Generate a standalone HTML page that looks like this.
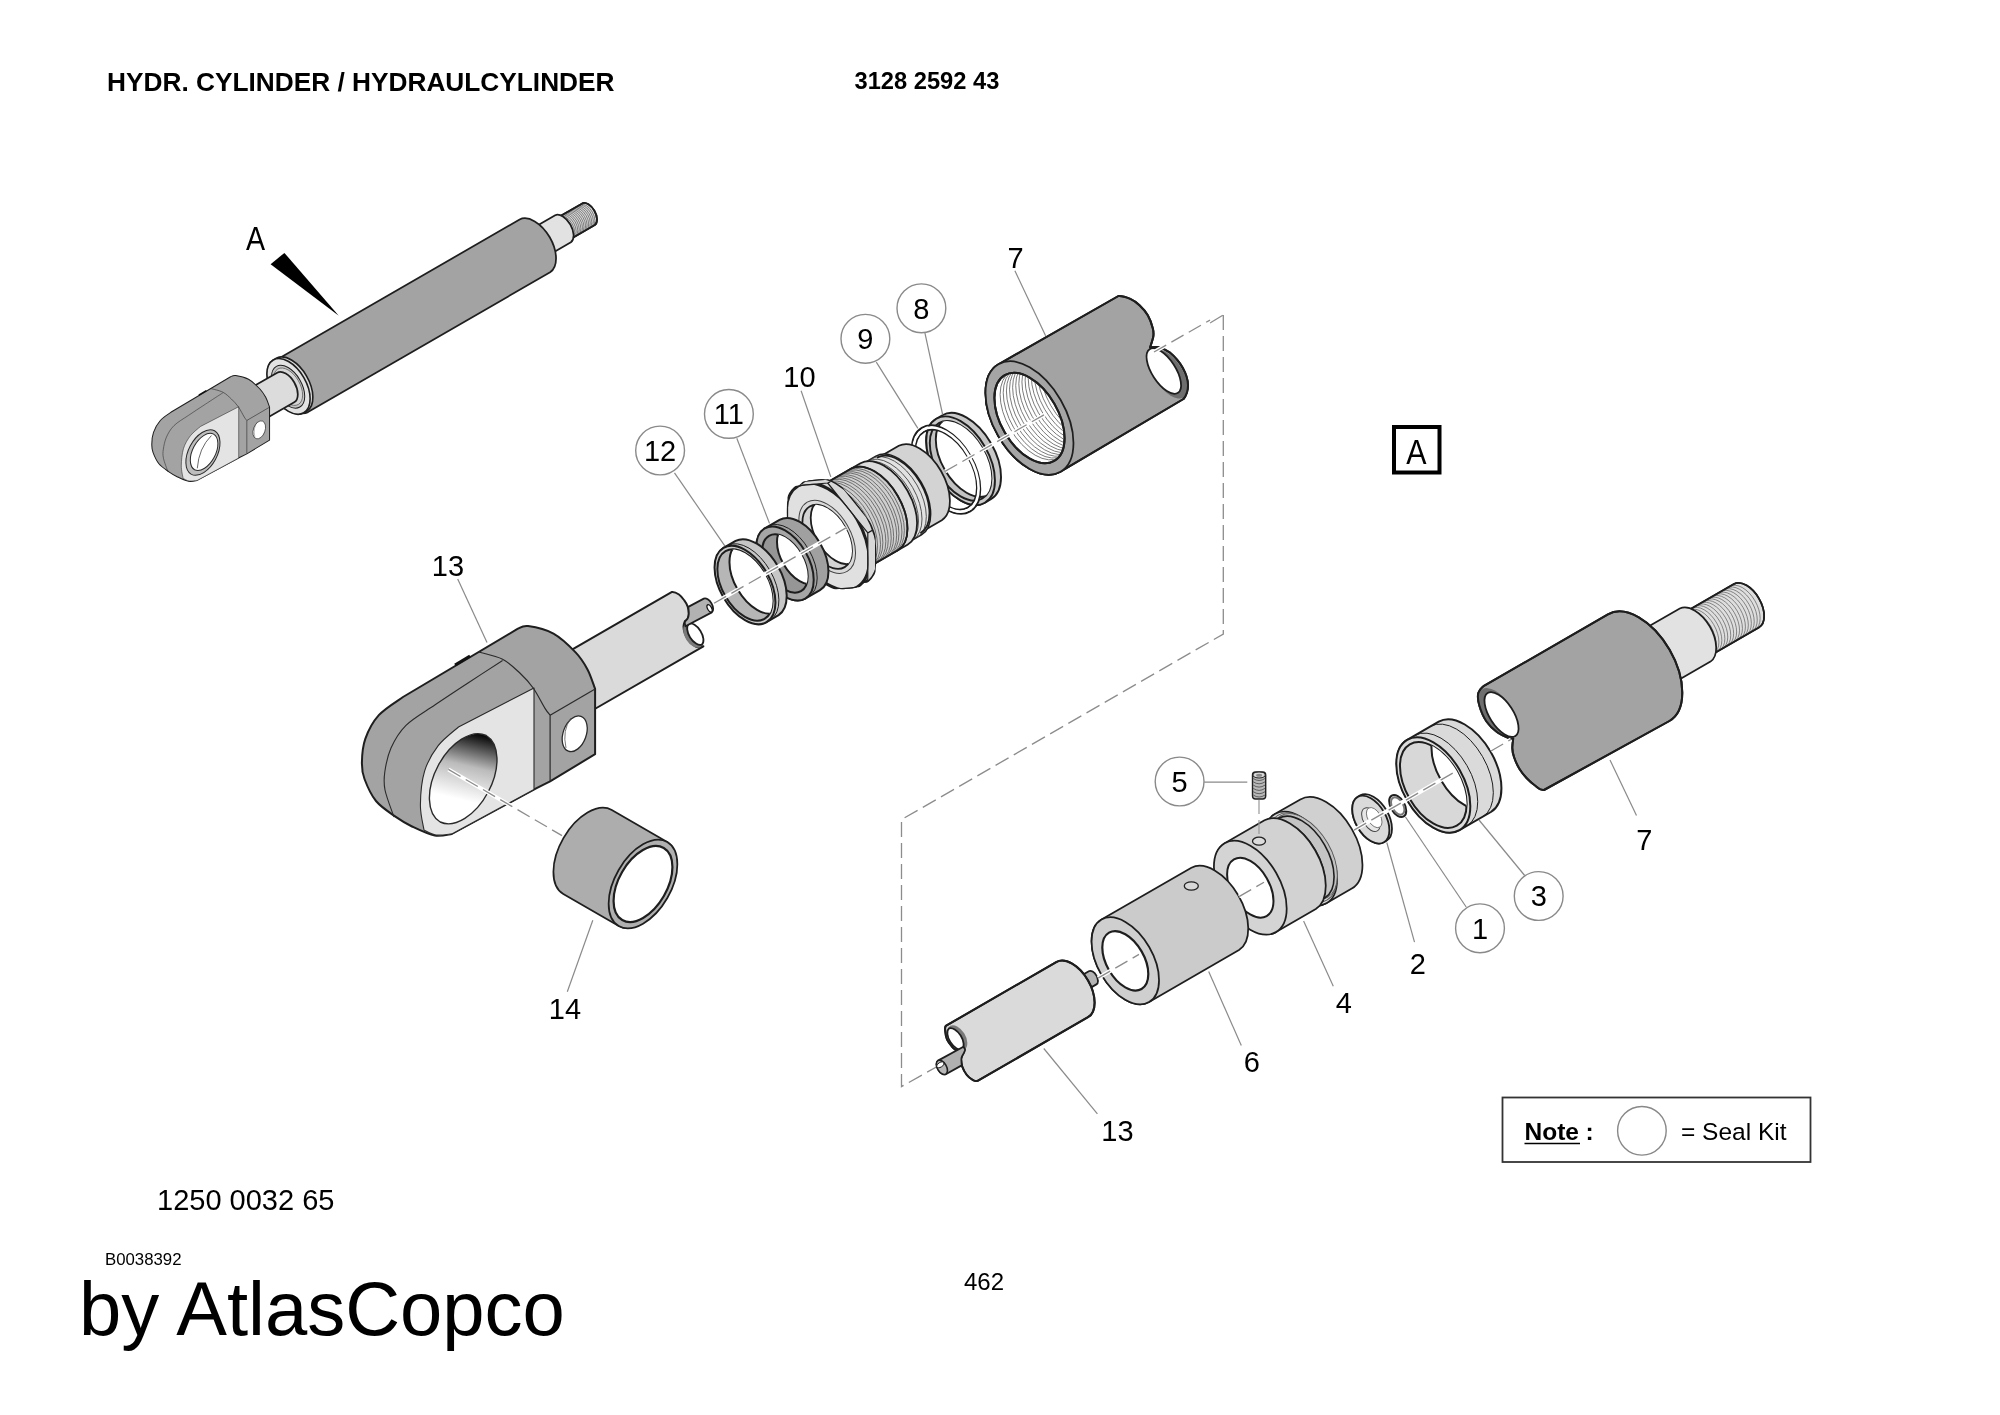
<!DOCTYPE html>
<html><head><meta charset="utf-8"><style>
html,body{margin:0;padding:0;background:#fff;}
svg{display:block;will-change:transform;}
text{font-family:"Liberation Sans",sans-serif;fill:#000;}
</style></head><body>
<svg width="2000" height="1415" viewBox="0 0 2000 1415">
<defs><clipPath id="c1"><ellipse cx="1029.5" cy="418.0" rx="49.5" ry="28.7" transform="rotate(60 1029.5 418.0)"/></clipPath><clipPath id="c2"><ellipse cx="960.6" cy="460.8" rx="43.5" ry="25.2" transform="rotate(60 960.6 460.8)"/></clipPath><clipPath id="c3"><path d="M806.2,481.3 A58.5,34.0 60 0 1 864.7,582.7 A58.5,34.0 60 0 1 806.2,481.3 Z"/></clipPath><clipPath id="c4"><path d="M875.6,528.4 L835.5,478.5 L795.3,482.1 L795.3,535.6 L835.5,585.5 L875.6,581.9 Z"/></clipPath><clipPath id="c5"><path d="M798.4,485.8 A58.5,34.0 60 0 1 856.9,587.2 A58.5,34.0 60 0 1 798.4,485.8 Z M806.2,481.3 A58.5,34.0 60 0 1 864.7,582.7 A58.5,34.0 60 0 1 806.2,481.3 Z"/></clipPath><clipPath id="c6"><path d="M798.4,485.8 A58.5,34.0 60 0 1 856.9,587.2 A58.5,34.0 60 0 1 798.4,485.8 Z"/></clipPath><clipPath id="c7"><path d="M867.8,532.9 L827.7,483.0 L787.5,486.6 L787.5,540.1 L827.7,590.0 L867.8,586.4 Z"/></clipPath><clipPath id="c8"><ellipse cx="827.2" cy="536.8" rx="35.0" ry="20.3" transform="rotate(60 827.2 536.8)"/></clipPath><clipPath id="c9"><ellipse cx="785.0" cy="563.5" rx="32.0" ry="18.6" transform="rotate(60 785.0 563.5)"/></clipPath><clipPath id="c10"><ellipse cx="745.0" cy="585.0" rx="39.0" ry="22.6" transform="rotate(60 745.0 585.0)"/></clipPath><linearGradient id="holegrad" gradientUnits="userSpaceOnUse" x1="478" y1="733" x2="462" y2="800"><stop offset="0" stop-color="#000"/><stop offset="0.5" stop-color="#bbb"/><stop offset="1" stop-color="#fff"/></linearGradient><g id="eye"><path d="M403,697 L517.9,628.7 C519.6,628.3 522.2,625.3 528.1,626.1 C534.0,626.9 545.6,629.3 553.5,633.7 C561.4,638.1 569.9,646.5 575.6,652.4 C581.3,658.3 584.2,663.3 587.5,669.4 C590.8,675.5 593.8,685.6 595.1,688.9 L595.1,754.2 L550.1,781.3 L536.6,788.1 L451.8,833.9 C449.0,834.2 441.4,836.8 434.8,835.6 C428.2,834.4 418.5,829.6 412.0,826.5 C405.5,823.4 401.8,821.1 395.8,816.9 C389.8,812.6 381.2,807.3 376.0,801.0 C370.8,794.7 366.9,785.4 364.5,779.0 C362.1,772.6 361.8,769.3 361.9,762.6 C362.0,755.9 362.5,746.8 365.3,738.9 C368.1,731.0 372.5,722.2 378.8,715.2 C385.1,708.2 399.0,700.0 403.0,697.0 Z" fill="#a3a3a3" stroke="#1e1e1e" stroke-width="2" stroke-linejoin="round"/><path d="M534,688 L534,789.5 L451.8,833.9 C449.2,834.1 440.6,835.6 436.0,835.0 C431.4,834.4 426.0,830.8 424.0,830.0 C423.4,825.8 420.3,814.8 420.4,805.0 C420.5,795.2 421.6,781.0 424.6,771.1 C427.6,761.2 432.6,753.1 438.2,745.7 C443.8,738.4 455.1,730.1 458.5,727.0 Z" fill="#e4e4e4" stroke="#2a2a2a" stroke-width="1.1" stroke-linejoin="round"/><path d="M394.0,817.0 C392.5,812.5 386.5,797.5 385.0,790.0 C383.5,782.5 383.8,779.0 384.8,772.0 C385.8,765.0 387.5,755.8 391.0,748.0 C394.5,740.2 398.7,732.5 406.0,725.3 C413.3,718.1 424.5,712.0 434.8,705.0 C445.1,698.0 456.7,690.4 468.0,683.0 C479.3,675.6 496.8,664.2 502.6,660.5" fill="none" stroke="#2a2a2a" stroke-width="1.1"/><path d="M478.9,652.0 C482.8,653.2 495.8,655.7 502.6,659.2 C509.4,662.7 514.5,668.0 519.6,672.8 C524.7,677.6 529.0,682.1 533.2,688.0 C537.4,693.9 542.2,703.9 545.0,708.4 C547.8,712.9 549.2,714.1 550.1,715.2 L550.1,781.3" fill="none" stroke="#2a2a2a" stroke-width="1.2"/><path d="M550.1,715.2 L595.1,688.9" fill="none" stroke="#2a2a2a" stroke-width="1.2"/><ellipse cx="574.7" cy="733.8" rx="18.5" ry="11.5" transform="rotate(110 574.7 733.8)" fill="#fff" stroke="#2a2a2a" stroke-width="1.3"/><path d="M571,718 Q562,730 566,748" fill="none" stroke="#555" stroke-width="0.8"/><path d="M486.2,735.5 A49.0,29.0 118 0 1 440.2,822.0 A49.0,29.0 118 0 1 486.2,735.5 Z" fill="url(#holegrad)" stroke="#2a2a2a" stroke-width="1.4"/><path d="M455,665 L470,656" stroke="#111" stroke-width="3"/></g><g id="eyes"><path d="M403,697 L517.9,628.7 C519.6,628.3 522.2,625.3 528.1,626.1 C534.0,626.9 545.6,629.3 553.5,633.7 C561.4,638.1 569.9,646.5 575.6,652.4 C581.3,658.3 584.2,663.3 587.5,669.4 C590.8,675.5 593.8,685.6 595.1,688.9 L595.1,754.2 L550.1,781.3 L536.6,788.1 L451.8,833.9 C449.0,834.2 441.4,836.8 434.8,835.6 C428.2,834.4 418.5,829.6 412.0,826.5 C405.5,823.4 401.8,821.1 395.8,816.9 C389.8,812.6 381.2,807.3 376.0,801.0 C370.8,794.7 366.9,785.4 364.5,779.0 C362.1,772.6 361.8,769.3 361.9,762.6 C362.0,755.9 362.5,746.8 365.3,738.9 C368.1,731.0 372.5,722.2 378.8,715.2 C385.1,708.2 399.0,700.0 403.0,697.0 Z" fill="#a3a3a3" stroke="#1e1e1e" stroke-width="2" stroke-linejoin="round"/><path d="M534,688 L534,789.5 L451.8,833.9 C449.2,834.1 440.6,835.6 436.0,835.0 C431.4,834.4 426.0,830.8 424.0,830.0 C423.4,825.8 420.3,814.8 420.4,805.0 C420.5,795.2 421.6,781.0 424.6,771.1 C427.6,761.2 432.6,753.1 438.2,745.7 C443.8,738.4 455.1,730.1 458.5,727.0 Z" fill="#e4e4e4" stroke="#2a2a2a" stroke-width="1.1" stroke-linejoin="round"/><path d="M394.0,817.0 C392.5,812.5 386.5,797.5 385.0,790.0 C383.5,782.5 383.8,779.0 384.8,772.0 C385.8,765.0 387.5,755.8 391.0,748.0 C394.5,740.2 398.7,732.5 406.0,725.3 C413.3,718.1 424.5,712.0 434.8,705.0 C445.1,698.0 456.7,690.4 468.0,683.0 C479.3,675.6 496.8,664.2 502.6,660.5" fill="none" stroke="#2a2a2a" stroke-width="1.1"/><path d="M478.9,652.0 C482.8,653.2 495.8,655.7 502.6,659.2 C509.4,662.7 514.5,668.0 519.6,672.8 C524.7,677.6 529.0,682.1 533.2,688.0 C537.4,693.9 542.2,703.9 545.0,708.4 C547.8,712.9 549.2,714.1 550.1,715.2 L550.1,781.3" fill="none" stroke="#2a2a2a" stroke-width="1.2"/><path d="M550.1,715.2 L595.1,688.9" fill="none" stroke="#2a2a2a" stroke-width="1.2"/><ellipse cx="574.7" cy="733.8" rx="18.5" ry="11.5" transform="rotate(110 574.7 733.8)" fill="#fff" stroke="#2a2a2a" stroke-width="1.3"/><path d="M571,718 Q562,730 566,748" fill="none" stroke="#555" stroke-width="0.8"/><path d="M486.2,735.5 A49.0,29.0 118 0 1 440.2,822.0 A49.0,29.0 118 0 1 486.2,735.5 Z" fill="#bdbdbd" stroke="#2a2a2a" stroke-width="2"/><path d="M484.3,742.2 A40.0,23.0 118 0 1 446.7,812.8 A40.0,23.0 118 0 1 484.3,742.2 Z" fill="#fff" stroke="#2a2a2a" stroke-width="2"/><path d="M480,745 Q455,770 452,810" fill="none" stroke="#444" stroke-width="1.6"/><path d="M455,665 L470,656" stroke="#111" stroke-width="3"/></g><clipPath id="c11"><ellipse cx="1433.3" cy="785.0" rx="47.0" ry="27.3" transform="rotate(60 1433.3 785.0)"/></clipPath></defs>
<rect width="2000" height="1415" fill="#fff"/>
<text x="107.0" y="90.5" font-size="26.25" text-anchor="start" font-weight="bold" >HYDR. CYLINDER / HYDRAULCYLINDER</text>
<text x="854.5" y="89.2" font-size="23.7" text-anchor="start" font-weight="bold" >3128 2592 43</text>
<text x="157.0" y="1210.0" font-size="29" text-anchor="start" font-weight="normal" >1250 0032 65</text>
<text x="105.0" y="1264.5" font-size="16.8" text-anchor="start" font-weight="normal" >B0038392</text>
<text x="79.0" y="1335.0" font-size="76" text-anchor="start" font-weight="normal" >by AtlasCopco</text>
<text x="964.0" y="1289.5" font-size="24" text-anchor="start" font-weight="normal" >462</text>
<rect x="1394" y="427" width="45.5" height="45.5" fill="none" stroke="#000" stroke-width="4"/>
<text x="1416.3" y="463.7" font-size="34.5" text-anchor="middle" font-weight="normal" transform="translate(1416.3 0) scale(0.88 1) translate(-1416.3 0)">A</text>
<rect x="1502.5" y="1097.5" width="308" height="64.5" fill="none" stroke="#333" stroke-width="1.8"/>
<text x="1524.5" y="1139.5" font-size="24.5" text-anchor="start" font-weight="bold" >Note</text>
<line x1="1524.5" y1="1143.5" x2="1580" y2="1143.5" stroke="#000" stroke-width="1.6"/>
<text x="1585.5" y="1139.5" font-size="24.5" text-anchor="start" font-weight="bold" >:</text>
<circle cx="1641.9" cy="1130.8" r="24.3" fill="none" stroke="#888" stroke-width="1.4"/>
<text x="1681.0" y="1140.4" font-size="24.5" text-anchor="start" font-weight="normal" >= Seal Kit</text>
<path d="M1223.3,314.9 L1223.3,634 L901.5,819.6 L901.5,1086.6 L937.7,1066.2" stroke="#8c8c8c" stroke-width="1.3" stroke-dasharray="15 6" fill="none"/>
<path d="M1210,323 L1223.3,314.9" stroke="#8c8c8c" stroke-width="1.3" stroke-dasharray="15 6" fill="none"/>
<path d="M556.9,218.1 L582.3,203.4 A12.5,7.2 60 0 1 594.8,225.0 L569.4,239.7 A12.5,7.2 60 0 1 556.9,218.1 Z" fill="#d6d6d6" stroke="#1e1e1e" stroke-width="1.75" stroke-linejoin="round" />
<path d="M558.4,217.2 A12.5,7.2 60 0 1 570.9,238.8" fill="none" stroke="#5a5a5a" stroke-width="0.7"/>
<path d="M560.0,216.3 A12.5,7.2 60 0 1 572.5,237.9" fill="none" stroke="#5a5a5a" stroke-width="0.7"/>
<path d="M561.5,215.4 A12.5,7.2 60 0 1 574.0,237.0" fill="none" stroke="#5a5a5a" stroke-width="0.7"/>
<path d="M563.1,214.5 A12.5,7.2 60 0 1 575.6,236.1" fill="none" stroke="#5a5a5a" stroke-width="0.7"/>
<path d="M564.6,213.6 A12.5,7.2 60 0 1 577.1,235.2" fill="none" stroke="#5a5a5a" stroke-width="0.7"/>
<path d="M566.2,212.7 A12.5,7.2 60 0 1 578.7,234.3" fill="none" stroke="#5a5a5a" stroke-width="0.7"/>
<path d="M567.8,211.8 A12.5,7.2 60 0 1 580.3,233.4" fill="none" stroke="#5a5a5a" stroke-width="0.7"/>
<path d="M569.3,210.9 A12.5,7.2 60 0 1 581.8,232.5" fill="none" stroke="#5a5a5a" stroke-width="0.7"/>
<path d="M570.9,210.0 A12.5,7.2 60 0 1 583.4,231.6" fill="none" stroke="#5a5a5a" stroke-width="0.7"/>
<path d="M572.4,209.1 A12.5,7.2 60 0 1 584.9,230.7" fill="none" stroke="#5a5a5a" stroke-width="0.7"/>
<path d="M574.0,208.2 A12.5,7.2 60 0 1 586.5,229.8" fill="none" stroke="#5a5a5a" stroke-width="0.7"/>
<path d="M575.6,207.3 A12.5,7.2 60 0 1 588.1,228.9" fill="none" stroke="#5a5a5a" stroke-width="0.7"/>
<path d="M577.1,206.4 A12.5,7.2 60 0 1 589.6,228.0" fill="none" stroke="#5a5a5a" stroke-width="0.7"/>
<path d="M578.7,205.5 A12.5,7.2 60 0 1 591.2,227.1" fill="none" stroke="#5a5a5a" stroke-width="0.7"/>
<path d="M580.2,204.6 A12.5,7.2 60 0 1 592.7,226.2" fill="none" stroke="#5a5a5a" stroke-width="0.7"/>
<path d="M556.9,218.1 L582.3,203.4 A12.5,7.2 60 0 1 594.8,225.0 L569.4,239.7 A12.5,7.2 60 0 1 556.9,218.1 Z" fill="none" stroke="#1e1e1e" stroke-width="1.75" stroke-linejoin="round" />
<path d="M527.1,231.4 L555.2,215.2 A15.7,9.1 60 0 1 570.9,242.3 L542.7,258.6 A15.7,9.1 60 0 1 527.1,231.4 Z" fill="#e2e2e2" stroke="#1e1e1e" stroke-width="1.75" stroke-linejoin="round" />
<path d="M277.5,359.3 L519.6,219.5 A30.5,17.7 60 0 1 550.1,272.3 L308.0,412.1 A30.5,17.7 60 0 1 277.5,359.3 Z" fill="#a3a3a3" stroke="#1e1e1e" stroke-width="1.75" stroke-linejoin="round" />
<path d="M273.3,360.0 L276.8,358.0 A30.5,17.7 60 0 1 307.2,410.8 L303.8,412.8 A30.5,17.7 60 0 1 273.3,360.0 Z" fill="#dcdcdc" stroke="#1e1e1e" stroke-width="1.6" stroke-linejoin="round" />
<ellipse cx="288.5" cy="386.4" rx="30.5" ry="17.7" transform="rotate(60 288.5 386.4)" fill="#e2e2e2" stroke="#1e1e1e" stroke-width="1.6" />
<ellipse cx="288.1" cy="386.7" rx="23.5" ry="13.6" transform="rotate(60 288.1 386.7)" fill="#c4c4c4" stroke="#1e1e1e" stroke-width="1.0" />
<ellipse cx="288.1" cy="386.7" rx="20.5" ry="11.9" transform="rotate(60 288.1 386.7)" fill="#d6d6d6" stroke="#666" stroke-width="0.8" />
<path d="M239.9,394.2 L277.2,372.7 A17.0,9.9 60 0 1 294.2,402.2 L256.9,423.7 A17.0,9.9 60 0 1 239.9,394.2 Z" fill="#dcdcdc" stroke="#1e1e1e" stroke-width="1.75" stroke-linejoin="round" />
<use href="#eyes" transform="translate(269.5 398.4) scale(0.505) translate(-595 -671.5)"/>
<path d="M998.5,364.3 L1118.4,296 C1121.5,295.8 1126.8,297.3 1130.3,298.8 C1133.8,300.3 1136.6,302.4 1139.5,305.2 C1142.4,307.9 1145.6,311.5 1147.8,315.3 C1150.0,319.1 1151.9,324.7 1152.8,328.2 C1153.7,331.7 1153.8,333.3 1153.3,336.5 C1152.8,339.7 1150.6,345.7 1150.1,347.5 C1151.5,347.4 1155.5,346.4 1158.8,347.2 C1162.1,348.0 1165.9,349.1 1169.9,352.5 C1173.9,355.9 1179.7,362.3 1182.7,367.7 C1185.7,373.1 1187.9,379.8 1188.0,385.0 C1188.1,390.2 1186.4,395.4 1183.5,399.0 L1060.5,471.7 A62.0,36.0 60 0 1 998.5,364.3 Z" fill="#a3a3a3" stroke="#1e1e1e" stroke-width="2" stroke-linejoin="round"/>
<path d="M1153.3,350.5 A28.0,14.5 57 0 1 1183.7,397.5 A28.0,14.5 57 0 1 1153.3,350.5 Z" fill="#6e6e6e"/>
<path d="M1149.6,349.2 A26.0,11.8 57 0 1 1178.0,392.8 A26.0,11.8 57 0 1 1149.6,349.2 Z" fill="#fff" stroke="#1e1e1e" stroke-width="1.8"/>
<path d="M998.5,364.3 L1118.4,296 C1121.5,295.8 1126.8,297.3 1130.3,298.8 C1133.8,300.3 1136.6,302.4 1139.5,305.2 C1142.4,307.9 1145.6,311.5 1147.8,315.3 C1150.0,319.1 1151.9,324.7 1152.8,328.2 C1153.7,331.7 1153.8,333.3 1153.3,336.5 C1152.8,339.7 1150.6,345.7 1150.1,347.5 C1151.5,347.4 1155.5,346.4 1158.8,347.2 C1162.1,348.0 1165.9,349.1 1169.9,352.5 C1173.9,355.9 1179.7,362.3 1182.7,367.7 C1185.7,373.1 1187.9,379.8 1188.0,385.0 C1188.1,390.2 1186.4,395.4 1183.5,399.0 L1060.5,471.7 A62.0,36.0 60 0 1 998.5,364.3 Z" fill="none" stroke="#1e1e1e" stroke-width="2" stroke-linejoin="round"/>
<ellipse cx="1029.5" cy="418.0" rx="62.0" ry="36.0" transform="rotate(60 1029.5 418.0)" fill="#a5a5a5" stroke="#1e1e1e" stroke-width="1.75" />
<ellipse cx="1029.5" cy="418.0" rx="49.5" ry="28.7" transform="rotate(60 1029.5 418.0)" fill="#fff" stroke="#1e1e1e" stroke-width="2.0" />
<g clip-path="url(#c1)">
<ellipse cx="1035.2" cy="414.7" rx="49.5" ry="28.7" transform="rotate(60 1035.2 414.7)" fill="none" stroke="#6a6a6a" stroke-width="0.8" />
<ellipse cx="1038.3" cy="412.9" rx="49.5" ry="28.7" transform="rotate(60 1038.3 412.9)" fill="none" stroke="#6a6a6a" stroke-width="0.8" />
<ellipse cx="1041.5" cy="411.1" rx="49.5" ry="28.7" transform="rotate(60 1041.5 411.1)" fill="none" stroke="#6a6a6a" stroke-width="0.8" />
<ellipse cx="1044.6" cy="409.3" rx="49.5" ry="28.7" transform="rotate(60 1044.6 409.3)" fill="none" stroke="#6a6a6a" stroke-width="0.8" />
<ellipse cx="1047.7" cy="407.5" rx="49.5" ry="28.7" transform="rotate(60 1047.7 407.5)" fill="none" stroke="#6a6a6a" stroke-width="0.8" />
<ellipse cx="1050.8" cy="405.7" rx="49.5" ry="28.7" transform="rotate(60 1050.8 405.7)" fill="none" stroke="#6a6a6a" stroke-width="0.8" />
<ellipse cx="1053.9" cy="403.9" rx="49.5" ry="28.7" transform="rotate(60 1053.9 403.9)" fill="none" stroke="#6a6a6a" stroke-width="0.8" />
<ellipse cx="1057.0" cy="402.1" rx="49.5" ry="28.7" transform="rotate(60 1057.0 402.1)" fill="none" stroke="#6a6a6a" stroke-width="0.8" />
<ellipse cx="1060.2" cy="400.3" rx="49.5" ry="28.7" transform="rotate(60 1060.2 400.3)" fill="none" stroke="#6a6a6a" stroke-width="0.8" />
<ellipse cx="1063.3" cy="398.5" rx="49.5" ry="28.7" transform="rotate(60 1063.3 398.5)" fill="none" stroke="#6a6a6a" stroke-width="0.8" />
<ellipse cx="1066.4" cy="396.7" rx="49.5" ry="28.7" transform="rotate(60 1066.4 396.7)" fill="none" stroke="#6a6a6a" stroke-width="0.8" />
<ellipse cx="1069.5" cy="394.9" rx="49.5" ry="28.7" transform="rotate(60 1069.5 394.9)" fill="none" stroke="#6a6a6a" stroke-width="0.8" />
<ellipse cx="1072.6" cy="393.1" rx="49.5" ry="28.7" transform="rotate(60 1072.6 393.1)" fill="none" stroke="#6a6a6a" stroke-width="0.8" />
<ellipse cx="1075.7" cy="391.3" rx="49.5" ry="28.7" transform="rotate(60 1075.7 391.3)" fill="none" stroke="#6a6a6a" stroke-width="0.8" />
<ellipse cx="1078.9" cy="389.5" rx="49.5" ry="28.7" transform="rotate(60 1078.9 389.5)" fill="none" stroke="#6a6a6a" stroke-width="0.8" />
</g>
<ellipse cx="1029.5" cy="418.0" rx="49.5" ry="28.7" transform="rotate(60 1029.5 418.0)" fill="none" stroke="#1e1e1e" stroke-width="2.0" />
<path d="M936.3,418.7 L942.4,415.2 A48.5,28.1 60 0 1 990.9,499.3 L984.8,502.8 A48.5,28.1 60 0 1 936.3,418.7 Z" fill="#c8c8c8" stroke="#1e1e1e" stroke-width="1.9" stroke-linejoin="round" />
<ellipse cx="960.6" cy="460.8" rx="48.5" ry="28.1" transform="rotate(60 960.6 460.8)" fill="#cacaca" stroke="#1e1e1e" stroke-width="1.9" />
<ellipse cx="960.6" cy="460.8" rx="43.5" ry="25.2" transform="rotate(60 960.6 460.8)" fill="#c2c2c2" stroke="#1e1e1e" stroke-width="1.9" />
<g clip-path="url(#c2)">
<ellipse cx="966.6" cy="457.2" rx="43.5" ry="25.2" transform="rotate(60 966.6 457.2)" fill="#fff" stroke="#1e1e1e" stroke-width="1.9" />
</g>
<path d="M0,0" />
<ellipse cx="946.0" cy="469.6" rx="48.3" ry="28.0" transform="rotate(60 946.0 469.6)" fill="none" stroke="#1e1e1e" stroke-width="2" />
<ellipse cx="946.0" cy="469.6" rx="43.8" ry="25.4" transform="rotate(60 946.0 469.6)" fill="none" stroke="#1e1e1e" stroke-width="2" />
<ellipse cx="946.0" cy="469.6" rx="46.0" ry="26.7" transform="rotate(60 946.0 469.6)" fill="none" stroke="#fff" stroke-width="2.6" />
<path d="M877.2,458.3 L898.8,445.8 A43.0,24.9 60 0 1 941.8,520.2 L920.2,532.7 A43.0,24.9 60 0 1 877.2,458.3 Z" fill="#d3d3d3" stroke="#1e1e1e" stroke-width="1.75" stroke-linejoin="round" />
<path d="M861.2,464.6 L875.9,456.1 A45.5,26.4 60 0 1 921.4,534.9 L906.7,543.4 A45.5,26.4 60 0 1 861.2,464.6 Z" fill="#e2e2e2" stroke="#1e1e1e" stroke-width="1.6" stroke-linejoin="round" />
<path d="M863.8,463.1 A45.5,26.4 60 0 1 909.3,541.9" fill="none" stroke="#444" stroke-width="0.9"/>
<path d="M867.3,461.1 A45.5,26.4 60 0 1 912.8,539.9" fill="none" stroke="#444" stroke-width="0.9"/>
<path d="M871.6,458.6 A45.5,26.4 60 0 1 917.1,537.4" fill="none" stroke="#444" stroke-width="0.9"/>
<path d="M876.9,457.8 A43.5,25.2 60 0 1 920.4,533.2" fill="none" stroke="#1e1e1e" stroke-width="1.8"/>
<path d="M850.9,468.8 L860.5,463.3 A47.0,27.3 60 0 1 907.5,544.7 L897.9,550.2 A47.0,27.3 60 0 1 850.9,468.8 Z" fill="#dcdcdc" stroke="#1e1e1e" stroke-width="1.8" stroke-linejoin="round" />
<path d="M810.2,492.3 L850.9,468.8 A47.0,27.3 60 0 1 897.9,550.2 L857.2,573.7 A47.0,27.3 60 0 1 810.2,492.3 Z" fill="#cfcfcf" stroke="#1e1e1e" stroke-width="1.75" stroke-linejoin="round" />
<path d="M812.9,490.7 A47.0,27.3 60 0 1 859.9,572.2" fill="none" stroke="#555" stroke-width="0.8"/>
<path d="M815.6,489.2 A47.0,27.3 60 0 1 862.6,570.6" fill="none" stroke="#555" stroke-width="0.8"/>
<path d="M818.3,487.6 A47.0,27.3 60 0 1 865.3,569.1" fill="none" stroke="#555" stroke-width="0.8"/>
<path d="M821.0,486.1 A47.0,27.3 60 0 1 868.0,567.5" fill="none" stroke="#555" stroke-width="0.8"/>
<path d="M823.7,484.5 A47.0,27.3 60 0 1 870.7,566.0" fill="none" stroke="#555" stroke-width="0.8"/>
<path d="M826.3,483.0 A47.0,27.3 60 0 1 873.3,564.4" fill="none" stroke="#555" stroke-width="0.8"/>
<path d="M829.0,481.4 A47.0,27.3 60 0 1 876.0,562.9" fill="none" stroke="#555" stroke-width="0.8"/>
<path d="M831.7,479.9 A47.0,27.3 60 0 1 878.7,561.3" fill="none" stroke="#555" stroke-width="0.8"/>
<path d="M834.4,478.3 A47.0,27.3 60 0 1 881.4,559.8" fill="none" stroke="#555" stroke-width="0.8"/>
<path d="M837.1,476.8 A47.0,27.3 60 0 1 884.1,558.2" fill="none" stroke="#555" stroke-width="0.8"/>
<path d="M839.8,475.2 A47.0,27.3 60 0 1 886.8,556.7" fill="none" stroke="#555" stroke-width="0.8"/>
<path d="M842.4,473.7 A47.0,27.3 60 0 1 889.4,555.1" fill="none" stroke="#555" stroke-width="0.8"/>
<path d="M845.1,472.1 A47.0,27.3 60 0 1 892.1,553.6" fill="none" stroke="#555" stroke-width="0.8"/>
<path d="M847.8,470.6 A47.0,27.3 60 0 1 894.8,552.0" fill="none" stroke="#555" stroke-width="0.8"/>
<path d="M810.2,492.3 L850.9,468.8 A47.0,27.3 60 0 1 897.9,550.2 L857.2,573.7 A47.0,27.3 60 0 1 810.2,492.3 Z" fill="none" stroke="#1e1e1e" stroke-width="1.75" stroke-linejoin="round" />
<g clip-path="url(#c3)"><path d="M875.6,528.4 L835.5,478.5 L795.3,482.1 L795.3,535.6 L835.5,585.5 L875.6,581.9 Z" fill="#d8d8d8" stroke="#1e1e1e" stroke-width="1.3" stroke-linejoin="round"/></g>
<g clip-path="url(#c4)"><path d="M806.2,481.3 A58.5,34.0 60 0 1 864.7,582.7 A58.5,34.0 60 0 1 806.2,481.3 Z" fill="none" stroke="#1e1e1e" stroke-width="3"/></g>
<g clip-path="url(#c5)">
<path d="M867.8,532.9 L827.7,483.0 L835.5,478.5 L875.6,528.4 Z" fill="#d8d8d8" stroke="#1e1e1e" stroke-width="1.2" stroke-linejoin="round" />
<path d="M827.7,483.0 L787.5,486.6 L795.3,482.1 L835.5,478.5 Z" fill="#d8d8d8" stroke="#1e1e1e" stroke-width="1.2" stroke-linejoin="round" />
<path d="M787.5,486.6 L787.5,540.1 L795.3,535.6 L795.3,482.1 Z" fill="#d8d8d8" stroke="#1e1e1e" stroke-width="1.2" stroke-linejoin="round" />
<path d="M787.5,540.1 L827.7,590.0 L835.5,585.5 L795.3,535.6 Z" fill="#d8d8d8" stroke="#1e1e1e" stroke-width="1.2" stroke-linejoin="round" />
<path d="M827.7,590.0 L867.8,586.4 L875.6,581.9 L835.5,585.5 Z" fill="#d8d8d8" stroke="#1e1e1e" stroke-width="1.2" stroke-linejoin="round" />
<path d="M867.8,586.4 L867.8,532.9 L875.6,528.4 L875.6,581.9 Z" fill="#d8d8d8" stroke="#1e1e1e" stroke-width="1.2" stroke-linejoin="round" />
</g>
<g clip-path="url(#c6)"><path d="M867.8,532.9 L827.7,483.0 L787.5,486.6 L787.5,540.1 L827.7,590.0 L867.8,586.4 Z" fill="#e0e0e0" stroke="#1e1e1e" stroke-width="1.3" stroke-linejoin="round"/></g>
<g clip-path="url(#c7)"><path d="M798.4,485.8 A58.5,34.0 60 0 1 856.9,587.2 A58.5,34.0 60 0 1 798.4,485.8 Z" fill="none" stroke="#1e1e1e" stroke-width="3"/></g>
<ellipse cx="827.2" cy="536.8" rx="40.0" ry="23.2" transform="rotate(60 827.2 536.8)" fill="#dadada" stroke="#444" stroke-width="1.0" />
<ellipse cx="827.2" cy="536.8" rx="35.0" ry="20.3" transform="rotate(60 827.2 536.8)" fill="#d4d4d4" stroke="#1e1e1e" stroke-width="1.8" />
<g clip-path="url(#c8)">
<ellipse cx="835.5" cy="532.0" rx="35.0" ry="20.3" transform="rotate(60 835.5 532.0)" fill="#fff" stroke="#1e1e1e" stroke-width="1.8" />
</g>
<path d="M764.8,528.4 L779.5,519.9 A40.5,23.5 60 0 1 820.0,590.1 L805.2,598.6 A40.5,23.5 60 0 1 764.8,528.4 Z" fill="#a0a0a0" stroke="#1e1e1e" stroke-width="2.0" stroke-linejoin="round" />
<path d="M768.2,526.4 A40.5,23.5 60 0 1 808.7,596.6" fill="none" stroke="#1e1e1e" stroke-width="1.0"/>
<ellipse cx="785.0" cy="563.5" rx="40.5" ry="23.5" transform="rotate(60 785.0 563.5)" fill="#a6a6a6" stroke="#1e1e1e" stroke-width="2.0" />
<ellipse cx="785.0" cy="563.5" rx="32.0" ry="18.6" transform="rotate(60 785.0 563.5)" fill="#969696" stroke="#1e1e1e" stroke-width="2.0" />
<g clip-path="url(#c9)">
<ellipse cx="799.7" cy="555.0" rx="32.0" ry="18.6" transform="rotate(60 799.7 555.0)" fill="#fff" stroke="#1e1e1e" stroke-width="2.0" />
</g>
<path d="M723.5,547.8 L735.6,540.8 A43.0,24.9 60 0 1 778.6,615.2 L766.5,622.2 A43.0,24.9 60 0 1 723.5,547.8 Z" fill="#c6c6c6" stroke="#1e1e1e" stroke-width="2.0" stroke-linejoin="round" />
<path d="M727.8,545.3 A43.0,24.9 60 0 1 770.8,619.7" fill="none" stroke="#1e1e1e" stroke-width="1.0"/>
<ellipse cx="745.0" cy="585.0" rx="43.0" ry="24.9" transform="rotate(60 745.0 585.0)" fill="#cbcbcb" stroke="#1e1e1e" stroke-width="2.0" />
<ellipse cx="745.0" cy="585.0" rx="39.0" ry="22.6" transform="rotate(60 745.0 585.0)" fill="#b6b6b6" stroke="#1e1e1e" stroke-width="2.0" />
<g clip-path="url(#c10)">
<ellipse cx="757.1" cy="578.0" rx="39.0" ry="22.6" transform="rotate(60 757.1 578.0)" fill="#fff" stroke="#1e1e1e" stroke-width="2.0" />
</g>
<path d="M561.6,655.7 L672.0,591.9 C674.3,591.7 677.0,593.1 679.0,594.5 C681.0,595.9 682.8,598.4 684.3,600.4 C685.8,602.4 687.0,604.4 687.7,606.6 C688.5,608.9 688.8,611.9 688.8,613.9 C688.8,615.9 688.4,617.2 687.7,618.4 C687.1,619.6 685.4,620.8 684.9,621.3 C684.7,622.1 683.5,624.3 683.5,626.4 C683.5,628.5 683.9,631.2 684.9,633.7 C685.9,636.2 687.5,638.9 689.4,641.1 C691.3,643.3 693.9,645.8 696.2,646.7 C698.5,647.6 703.4,645.7 703.4,646.3 L593.0,710.0 A31.4,18.2 60 0 1 561.6,655.7 Z" fill="#dadada" stroke="#1e1e1e" stroke-width="2" stroke-linejoin="round"/>
<path d="M685.7,623.8 A13.8,8.2 58 0 1 700.3,647.2 A13.8,8.2 58 0 1 685.7,623.8 Z" fill="#7a7a7a"/>
<path d="M688.8,623.8 A12.3,6.6 58 0 1 701.8,644.6 A12.3,6.6 58 0 1 688.8,623.8 Z" fill="#fff" stroke="#1e1e1e" stroke-width="1.8"/>
<path d="M688.3,606.9 L703.8,598.6 A8,4.64 60 0 1 711.8,612.4 L685.5,626.3 C685.4,625.6 684.5,623.5 684.8,622.3 C685.1,621.0 686.8,620.2 687.5,618.8 C688.2,617.4 688.7,615.9 688.8,613.9 C688.9,611.9 688.4,608.1 688.3,606.9 Z" fill="#b2b2b2" stroke="#1e1e1e" stroke-width="1.8" stroke-linejoin="round"/>
<path d="M707.5,604.8 A4.2,2.3 60 0 1 711.7,612.0 A4.2,2.3 60 0 1 707.5,604.8 Z" fill="#fff" stroke="#111" stroke-width="1.2"/>
<use href="#eye"/>
<path d="M611.8,810.0 L667.2,842.0 A48.5,28.1 120 0 1 618.8,926.0 L563.3,894.0 A48.5,28.1 120 0 1 611.8,810.0 Z" fill="#adadad" stroke="#1e1e1e" stroke-width="1.75" stroke-linejoin="round" />
<ellipse cx="643.0" cy="884.0" rx="48.5" ry="28.1" transform="rotate(120 643.0 884.0)" fill="#b0b0b0" stroke="#1e1e1e" stroke-width="1.75" />
<ellipse cx="643.0" cy="884.0" rx="41.5" ry="24.1" transform="rotate(120 643.0 884.0)" fill="#fff" stroke="#1e1e1e" stroke-width="2.2" />
<path d="M1682.8,613.6 L1733.9,584.1 A25.0,14.5 60 0 1 1758.9,627.5 L1707.8,657.0 A25.0,14.5 60 0 1 1682.8,613.6 Z" fill="#dedede" stroke="#1e1e1e" stroke-width="1.75" stroke-linejoin="round" />
<path d="M1685.7,611.9 A25.0,14.5 60 0 1 1710.7,655.3" fill="none" stroke="#5a5a5a" stroke-width="0.7"/>
<path d="M1688.7,610.2 A25.0,14.5 60 0 1 1713.7,653.6" fill="none" stroke="#5a5a5a" stroke-width="0.7"/>
<path d="M1691.6,608.5 A25.0,14.5 60 0 1 1716.6,651.9" fill="none" stroke="#5a5a5a" stroke-width="0.7"/>
<path d="M1694.6,606.8 A25.0,14.5 60 0 1 1719.6,650.2" fill="none" stroke="#5a5a5a" stroke-width="0.7"/>
<path d="M1697.5,605.1 A25.0,14.5 60 0 1 1722.5,648.5" fill="none" stroke="#5a5a5a" stroke-width="0.7"/>
<path d="M1700.5,603.4 A25.0,14.5 60 0 1 1725.5,646.8" fill="none" stroke="#5a5a5a" stroke-width="0.7"/>
<path d="M1703.4,601.7 A25.0,14.5 60 0 1 1728.4,645.1" fill="none" stroke="#5a5a5a" stroke-width="0.7"/>
<path d="M1706.4,600.0 A25.0,14.5 60 0 1 1731.4,643.4" fill="none" stroke="#5a5a5a" stroke-width="0.7"/>
<path d="M1709.3,598.3 A25.0,14.5 60 0 1 1734.3,641.7" fill="none" stroke="#5a5a5a" stroke-width="0.7"/>
<path d="M1712.2,596.6 A25.0,14.5 60 0 1 1737.2,640.0" fill="none" stroke="#5a5a5a" stroke-width="0.7"/>
<path d="M1715.2,594.9 A25.0,14.5 60 0 1 1740.2,638.3" fill="none" stroke="#5a5a5a" stroke-width="0.7"/>
<path d="M1718.1,593.2 A25.0,14.5 60 0 1 1743.1,636.6" fill="none" stroke="#5a5a5a" stroke-width="0.7"/>
<path d="M1721.1,591.5 A25.0,14.5 60 0 1 1746.1,634.9" fill="none" stroke="#5a5a5a" stroke-width="0.7"/>
<path d="M1724.0,589.8 A25.0,14.5 60 0 1 1749.0,633.2" fill="none" stroke="#5a5a5a" stroke-width="0.7"/>
<path d="M1727.0,588.1 A25.0,14.5 60 0 1 1752.0,631.5" fill="none" stroke="#5a5a5a" stroke-width="0.7"/>
<path d="M1729.9,586.4 A25.0,14.5 60 0 1 1754.9,629.8" fill="none" stroke="#5a5a5a" stroke-width="0.7"/>
<path d="M1682.8,613.6 L1733.9,584.1 A25.0,14.5 60 0 1 1758.9,627.5 L1707.8,657.0 A25.0,14.5 60 0 1 1682.8,613.6 Z" fill="none" stroke="#1e1e1e" stroke-width="1.75" stroke-linejoin="round" />
<path d="M1623.2,641.1 L1679.8,608.5 A30.7,17.8 60 0 1 1710.5,661.6 L1653.9,694.3 A30.7,17.8 60 0 1 1623.2,641.1 Z" fill="#e2e2e2" stroke="#1e1e1e" stroke-width="1.75" stroke-linejoin="round" />
<path d="M1483.5,686.2 L1607.9,614.4 A61.5,35.7 60 0 1 1669.4,721.0 L1544,790 C1539.8,790.8 1537.8,787.4 1535.0,785.5 C1532.2,783.6 1529.6,781.2 1527.0,778.5 C1524.4,775.8 1521.7,772.6 1519.5,769.0 C1517.3,765.4 1515.2,760.5 1514.0,757.0 C1512.8,753.5 1512.4,751.2 1512.3,748.1 C1512.2,745.0 1513.0,740.1 1513.2,738.5 C1512.4,738.4 1511.2,739.0 1508.6,738.0 C1506.0,737.0 1501.3,735.2 1497.6,732.5 C1493.9,729.8 1489.6,726.1 1486.5,721.5 C1483.4,716.9 1480.6,709.8 1479.2,705.0 C1477.8,700.2 1477.6,696.1 1478.3,693.0 C1479.0,689.9 1481.4,688.1 1483.5,686.2 Z" fill="#a3a3a3" stroke="#1e1e1e" stroke-width="2" stroke-linejoin="round"/>
<path d="M1482.0,689.4 A27.5,14.5 57 0 1 1512.0,735.6 A27.5,14.5 57 0 1 1482.0,689.4 Z" fill="#6e6e6e"/>
<path d="M1487.6,693.1 A25.5,11.8 57 0 1 1515.4,735.9 A25.5,11.8 57 0 1 1487.6,693.1 Z" fill="#fff" stroke="#1e1e1e" stroke-width="1.8"/>
<path d="M1483.5,686.2 L1607.9,614.4 A61.5,35.7 60 0 1 1669.4,721.0 L1544,790 C1539.8,790.8 1537.8,787.4 1535.0,785.5 C1532.2,783.6 1529.6,781.2 1527.0,778.5 C1524.4,775.8 1521.7,772.6 1519.5,769.0 C1517.3,765.4 1515.2,760.5 1514.0,757.0 C1512.8,753.5 1512.4,751.2 1512.3,748.1 C1512.2,745.0 1513.0,740.1 1513.2,738.5 C1512.4,738.4 1511.2,739.0 1508.6,738.0 C1506.0,737.0 1501.3,735.2 1497.6,732.5 C1493.9,729.8 1489.6,726.1 1486.5,721.5 C1483.4,716.9 1480.6,709.8 1479.2,705.0 C1477.8,700.2 1477.6,696.1 1478.3,693.0 C1479.0,689.9 1481.4,688.1 1483.5,686.2 Z" fill="none" stroke="#1e1e1e" stroke-width="2" stroke-linejoin="round"/>
<path d="M1407.2,739.8 L1438.7,721.6 A52.2,30.3 60 0 1 1490.9,812.0 L1459.4,830.2 A52.2,30.3 60 0 1 1407.2,739.8 Z" fill="#dadada" stroke="#1e1e1e" stroke-width="2.0" stroke-linejoin="round" />
<path d="M1415.0,735.3 A52.2,30.3 60 0 1 1467.2,825.7" fill="none" stroke="#1e1e1e" stroke-width="1.0"/>
<ellipse cx="1433.3" cy="785.0" rx="52.2" ry="30.3" transform="rotate(60 1433.3 785.0)" fill="#dcdcdc" stroke="#1e1e1e" stroke-width="2.0" />
<ellipse cx="1433.3" cy="785.0" rx="47.0" ry="27.3" transform="rotate(60 1433.3 785.0)" fill="#d8d8d8" stroke="#1e1e1e" stroke-width="2.0" />
<g clip-path="url(#c11)">
<ellipse cx="1464.8" cy="766.8" rx="47.0" ry="27.3" transform="rotate(60 1464.8 766.8)" fill="#fff" stroke="#1e1e1e" stroke-width="2.0" />
</g>
<path d="M1430.6,726.3 A52.2,30.3 60 0 1 1482.8,816.7" fill="none" stroke="#1e1e1e" stroke-width="1.0"/>
<ellipse cx="1397.7" cy="806.0" rx="12.0" ry="7.0" transform="rotate(60 1397.7 806.0)" fill="none" stroke="#1e1e1e" stroke-width="2" />
<ellipse cx="1397.7" cy="806.0" rx="9.5" ry="5.5" transform="rotate(60 1397.7 806.0)" fill="none" stroke="#777" stroke-width="2" />
<path d="M1357.7,796.9 L1360.3,795.4 A26.2,15.2 60 0 1 1386.5,840.8 L1383.9,842.3 A26.2,15.2 60 0 1 1357.7,796.9 Z" fill="#d8d8d8" stroke="#1e1e1e" stroke-width="1.8" stroke-linejoin="round" />
<ellipse cx="1370.8" cy="819.6" rx="26.2" ry="15.2" transform="rotate(60 1370.8 819.6)" fill="#dadada" stroke="#1e1e1e" stroke-width="1.8" />
<ellipse cx="1370.8" cy="819.6" rx="13.0" ry="7.5" transform="rotate(60 1370.8 819.6)" fill="#e6e6e6" stroke="#444" stroke-width="1.0" />
<ellipse cx="1374.2" cy="817.6" rx="11.0" ry="6.4" transform="rotate(60 1374.2 817.6)" fill="#fff" stroke="#666" stroke-width="0.8" />
<path d="M1274.8,814.1 L1300.3,799.4 A51.5,29.9 60 0 1 1351.8,888.6 L1326.3,903.3 A51.5,29.9 60 0 1 1274.8,814.1 Z" fill="#d0d0d0" stroke="#1e1e1e" stroke-width="1.75" stroke-linejoin="round" />
<ellipse cx="1300.6" cy="858.7" rx="51.5" ry="29.9" transform="rotate(60 1300.6 858.7)" fill="#d6d6d6" stroke="#1e1e1e" stroke-width="1.6" />
<ellipse cx="1302.3" cy="857.7" rx="49.0" ry="28.4" transform="rotate(60 1302.3 857.7)" fill="none" stroke="#555" stroke-width="0.9" />
<ellipse cx="1304.0" cy="856.7" rx="47.0" ry="27.3" transform="rotate(60 1304.0 856.7)" fill="#c2c2c2" stroke="#555" stroke-width="0.9" />
<path d="M1265.5,825.9 L1279.3,817.9 A46.0,26.7 60 0 1 1325.3,897.5 L1311.5,905.5 A46.0,26.7 60 0 1 1265.5,825.9 Z" fill="#c4c4c4" stroke="#1e1e1e" stroke-width="1.6" stroke-linejoin="round" />
<path d="M1268.4,823.0 A47.0,27.3 60 0 1 1315.4,904.4" fill="none" stroke="#1e1e1e" stroke-width="1.6"/>
<path d="M1224.7,843.3 L1264.5,820.3 A51.3,29.8 60 0 1 1315.8,909.1 L1276.0,932.1 A51.3,29.8 60 0 1 1224.7,843.3 Z" fill="#d2d2d2" stroke="#1e1e1e" stroke-width="1.75" stroke-linejoin="round" />
<ellipse cx="1250.3" cy="887.7" rx="51.3" ry="29.8" transform="rotate(60 1250.3 887.7)" fill="#d4d4d4" stroke="#1e1e1e" stroke-width="1.75" />
<ellipse cx="1250.3" cy="887.7" rx="32.7" ry="19.0" transform="rotate(60 1250.3 887.7)" fill="#fff" stroke="#1e1e1e" stroke-width="2.0" />
<ellipse cx="1259" cy="841.2" rx="6.5" ry="4" fill="#dcdcdc" stroke="#222" stroke-width="1.3"/>
<path d="M1259,800 L1259,838" stroke="#999" stroke-width="1.2" stroke-dasharray="14 6"/>
<rect x="1252.5" y="772" width="13.2" height="27" rx="3" fill="#b8b8b8" stroke="#222" stroke-width="1.4"/>
<path d="M1253.2,778.5 Q1259.1,782.5 1265,778.5" fill="none" stroke="#555" stroke-width="0.9"/>
<path d="M1253.2,781.8 Q1259.1,785.8 1265,781.8" fill="none" stroke="#555" stroke-width="0.9"/>
<path d="M1253.2,785.1 Q1259.1,789.1 1265,785.1" fill="none" stroke="#555" stroke-width="0.9"/>
<path d="M1253.2,788.4 Q1259.1,792.4 1265,788.4" fill="none" stroke="#555" stroke-width="0.9"/>
<path d="M1253.2,791.7 Q1259.1,795.7 1265,791.7" fill="none" stroke="#555" stroke-width="0.9"/>
<path d="M1253.2,795.0 Q1259.1,799.0 1265,795.0" fill="none" stroke="#555" stroke-width="0.9"/>
<ellipse cx="1259.1" cy="775" rx="6.2" ry="3" fill="#d8d8d8" stroke="#222" stroke-width="1.1"/>
<ellipse cx="1259.1" cy="775.3" rx="3" ry="1.5" fill="#888"/>
<path d="M1101.5,919.5 L1191.4,867.7 A47.6,27.6 60 0 1 1239.0,950.1 L1149.1,1002.0 A47.6,27.6 60 0 1 1101.5,919.5 Z" fill="#cbcbcb" stroke="#1e1e1e" stroke-width="1.75" stroke-linejoin="round" />
<ellipse cx="1125.3" cy="960.8" rx="47.6" ry="27.6" transform="rotate(60 1125.3 960.8)" fill="#cfcfcf" stroke="#1e1e1e" stroke-width="1.75" />
<ellipse cx="1125.3" cy="960.8" rx="32.5" ry="18.8" transform="rotate(60 1125.3 960.8)" fill="#fff" stroke="#1e1e1e" stroke-width="2.2" />
<ellipse cx="1191.3" cy="886" rx="7" ry="4.2" fill="#d8d8d8" stroke="#222" stroke-width="1.3"/>
<path d="M1063.1,986.1 L1088.8,971.2 A7.6,4.4 60 0 1 1096.4,984.4 L1070.7,999.2 A7.6,4.4 60 0 1 1063.1,986.1 Z" fill="#b4b4b4" stroke="#1e1e1e" stroke-width="1.8" stroke-linejoin="round" />
<path d="M945.8,1025.9 L1056.2,962.1 A31.8,18.4 60 0 1 1088.0,1017.2 L977.6,1080.9 C975.7,1081.5 974.8,1081.1 973.0,1080.1 C971.2,1079.1 968.6,1077.3 966.8,1075.0 C965.0,1072.7 963.2,1069.3 962.2,1066.5 C961.2,1063.7 960.9,1060.4 961.1,1058.1 C961.3,1055.8 963.1,1053.4 963.5,1052.5 L956,1050.1 C955.4,1049.6 954.1,1049.1 952.6,1047.3 C951.1,1045.5 948.2,1042.0 947.0,1039.4 C945.8,1036.8 945.5,1033.8 945.3,1031.5 C945.1,1029.2 944.6,1027.5 945.8,1025.9 Z" fill="#dadada" stroke="#1e1e1e" stroke-width="2" stroke-linejoin="round"/>
<path d="M950.2,1025.8 A13.8,8.2 58 0 1 964.8,1049.2 A13.8,8.2 58 0 1 950.2,1025.8 Z" fill="#7a7a7a"/>
<path d="M949.0,1028.4 A12.3,6.6 58 0 1 962.0,1049.2 A12.3,6.6 58 0 1 949.0,1028.4 Z" fill="#fff" stroke="#1e1e1e" stroke-width="1.8"/>
<path d="M945.8,1025.9 L1056.2,962.1 A31.8,18.4 60 0 1 1088.0,1017.2 L977.6,1080.9 C975.7,1081.5 974.8,1081.1 973.0,1080.1 C971.2,1079.1 968.6,1077.3 966.8,1075.0 C965.0,1072.7 963.2,1069.3 962.2,1066.5 C961.2,1063.7 960.9,1060.4 961.1,1058.1 C961.3,1055.8 963.1,1053.4 963.5,1052.5 L956,1050.1 C955.4,1049.6 954.1,1049.1 952.6,1047.3 C951.1,1045.5 948.2,1042.0 947.0,1039.4 C945.8,1036.8 945.5,1033.8 945.3,1031.5 C945.1,1029.2 944.6,1027.5 945.8,1025.9 Z" fill="none" stroke="#1e1e1e" stroke-width="2" stroke-linejoin="round"/>
<path d="M938,1060.6 L963.4,1046.8 C963.7,1047.3 965.0,1048.6 965.1,1049.6 C965.2,1050.6 964.5,1051.6 963.9,1053.0 C963.3,1054.4 961.9,1055.9 961.5,1058.0 C961.1,1060.1 961.7,1064.2 961.7,1065.4 L945.8,1074.2 A7.85,4.55 60 0 1 938,1060.6 Z" fill="#b0b0b0" stroke="#1e1e1e" stroke-width="1.8" stroke-linejoin="round"/>
<ellipse cx="941.9" cy="1067.4" rx="7.8" ry="4.6" transform="rotate(60 941.9 1067.4)" fill="#b8b8b8" stroke="#1e1e1e" stroke-width="1.6" />
<path d="M939.2,1062.8 A2.3,4.0 60 0 1 941.5,1066.8 A2.3,4.0 60 0 1 939.2,1062.8 Z" fill="#fff" stroke="#111" stroke-width="1"/>
<path d="M714.0,603.3 L846.0,527.9" stroke="#fff" stroke-width="4" fill="none"/>
<path d="M714.0,603.3 L846.0,527.9" stroke="#8c8c8c" stroke-width="1.3" stroke-dasharray="14 6" fill="none"/>
<path d="M945.0,471.4 L1046.0,413.7" stroke="#fff" stroke-width="4" fill="none"/>
<path d="M945.0,471.4 L1046.0,413.7" stroke="#8c8c8c" stroke-width="1.3" stroke-dasharray="14 6" fill="none"/>
<path d="M1154.0,352.0 L1210.0,320.1" stroke="#fff" stroke-width="4" fill="none"/>
<path d="M1154.0,352.0 L1210.0,320.1" stroke="#8c8c8c" stroke-width="1.3" stroke-dasharray="14 6" fill="none"/>
<path d="M1098.0,978.1 L1139.0,954.4" stroke="#fff" stroke-width="4" fill="none"/>
<path d="M1098.0,978.1 L1139.0,954.4" stroke="#8c8c8c" stroke-width="1.3" stroke-dasharray="14 6" fill="none"/>
<path d="M1239.0,896.6 L1264.0,882.2" stroke="#fff" stroke-width="4" fill="none"/>
<path d="M1239.0,896.6 L1264.0,882.2" stroke="#8c8c8c" stroke-width="1.3" stroke-dasharray="14 6" fill="none"/>
<path d="M1354.0,830.1 L1456.0,771.2" stroke="#fff" stroke-width="4" fill="none"/>
<path d="M1354.0,830.1 L1456.0,771.2" stroke="#8c8c8c" stroke-width="1.3" stroke-dasharray="14 6" fill="none"/>
<path d="M1491.0,751.0 L1511.0,739.4" stroke="#fff" stroke-width="4" fill="none"/>
<path d="M1491.0,751.0 L1511.0,739.4" stroke="#8c8c8c" stroke-width="1.3" stroke-dasharray="14 6" fill="none"/>
<path d="M448.4,769.4 L562.0,835.6" stroke="#fff" stroke-width="4" fill="none"/>
<path d="M448.4,769.4 L562.0,835.6" stroke="#8c8c8c" stroke-width="1.3" stroke-dasharray="14 6" fill="none"/>
<circle cx="660.1" cy="450.5" r="24.4" fill="#fff" stroke="#8a8a8a" stroke-width="1.4"/>
<text x="660.1" y="460.8" font-size="29" text-anchor="middle" font-weight="normal" >12</text>
<circle cx="728.9" cy="413.9" r="24.4" fill="#fff" stroke="#8a8a8a" stroke-width="1.4"/>
<text x="728.9" y="424.2" font-size="29" text-anchor="middle" font-weight="normal" >11</text>
<circle cx="865.4" cy="338.8" r="24.4" fill="#fff" stroke="#8a8a8a" stroke-width="1.4"/>
<text x="865.4" y="349.1" font-size="29" text-anchor="middle" font-weight="normal" >9</text>
<circle cx="921.4" cy="308.3" r="24.4" fill="#fff" stroke="#8a8a8a" stroke-width="1.4"/>
<text x="921.4" y="318.6" font-size="29" text-anchor="middle" font-weight="normal" >8</text>
<circle cx="1179.6" cy="781.5" r="24.4" fill="#fff" stroke="#8a8a8a" stroke-width="1.4"/>
<text x="1179.6" y="791.8" font-size="29" text-anchor="middle" font-weight="normal" >5</text>
<circle cx="1538.7" cy="896.0" r="24.4" fill="#fff" stroke="#8a8a8a" stroke-width="1.4"/>
<text x="1538.7" y="906.3" font-size="29" text-anchor="middle" font-weight="normal" >3</text>
<circle cx="1480.0" cy="928.3" r="24.4" fill="#fff" stroke="#8a8a8a" stroke-width="1.4"/>
<text x="1480.0" y="938.6" font-size="29" text-anchor="middle" font-weight="normal" >1</text>
<text x="799.5" y="386.8" font-size="29" text-anchor="middle" font-weight="normal" >10</text>
<text x="1015.5" y="268.0" font-size="29" text-anchor="middle" font-weight="normal" >7</text>
<text x="448.0" y="575.6" font-size="29" text-anchor="middle" font-weight="normal" >13</text>
<text x="565.0" y="1018.6" font-size="29" text-anchor="middle" font-weight="normal" >14</text>
<text x="1644.4" y="850.0" font-size="29" text-anchor="middle" font-weight="normal" >7</text>
<text x="1417.9" y="973.7" font-size="29" text-anchor="middle" font-weight="normal" >2</text>
<text x="1343.7" y="1013.0" font-size="29" text-anchor="middle" font-weight="normal" >4</text>
<text x="1251.7" y="1072.3" font-size="29" text-anchor="middle" font-weight="normal" >6</text>
<text x="1117.5" y="1140.6" font-size="29" text-anchor="middle" font-weight="normal" >13</text>
<text x="255.6" y="250.0" font-size="32.5" text-anchor="middle" font-weight="normal" transform="translate(255.6 0) scale(0.88 1) translate(-255.6 0)">A</text>
<path d="M270.6,264.2 L284.4,252.9 L338.8,315.8 Z" fill="#000"/>
<line x1="674.5" y1="472.9" x2="725.0" y2="546.1" stroke="#8a8a8a" stroke-width="1.2" />
<line x1="736.8" y1="438.3" x2="769.5" y2="523.4" stroke="#8a8a8a" stroke-width="1.2" />
<line x1="801.1" y1="390.8" x2="830.8" y2="476.9" stroke="#8a8a8a" stroke-width="1.2" />
<line x1="876.3" y1="362.1" x2="917.9" y2="428.4" stroke="#8a8a8a" stroke-width="1.2" />
<line x1="924.8" y1="332.4" x2="942.6" y2="414.5" stroke="#8a8a8a" stroke-width="1.2" />
<line x1="1014.9" y1="270.8" x2="1045.6" y2="335.7" stroke="#8a8a8a" stroke-width="1.2" />
<line x1="457.7" y1="579.0" x2="487.0" y2="642.6" stroke="#8a8a8a" stroke-width="1.2" />
<line x1="567.3" y1="991.8" x2="592.8" y2="920.2" stroke="#8a8a8a" stroke-width="1.2" />
<line x1="1204.2" y1="782.1" x2="1247.3" y2="782.1" stroke="#8a8a8a" stroke-width="1.2" />
<line x1="1479.0" y1="820.0" x2="1524.7" y2="875.5" stroke="#8a8a8a" stroke-width="1.2" />
<line x1="1405.5" y1="817.0" x2="1466.2" y2="907.0" stroke="#8a8a8a" stroke-width="1.2" />
<line x1="1386.8" y1="842.5" x2="1414.5" y2="942.2" stroke="#8a8a8a" stroke-width="1.2" />
<line x1="1610.0" y1="760.0" x2="1636.5" y2="815.5" stroke="#8a8a8a" stroke-width="1.2" />
<line x1="1303.6" y1="921.0" x2="1333.3" y2="986.3" stroke="#8a8a8a" stroke-width="1.2" />
<line x1="1208.7" y1="971.5" x2="1241.3" y2="1045.6" stroke="#8a8a8a" stroke-width="1.2" />
<line x1="1043.8" y1="1048.5" x2="1097.4" y2="1113.9" stroke="#8a8a8a" stroke-width="1.2" />
</svg>
</body></html>
